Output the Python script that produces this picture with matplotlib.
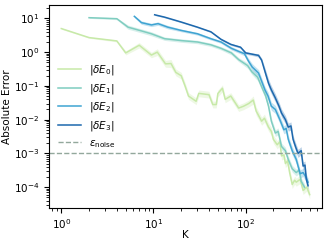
import numpy as np
import matplotlib
matplotlib.use("Agg")
import matplotlib.pyplot as plt

# --- data ---
K0 = [1, 2, 4, 5, 7, 9.5, 11, 13.5, 15.5, 17.5, 20, 22, 24, 29, 31, 40, 44, 48, 50, 56,
      60, 69, 84, 95, 108, 121, 130, 149, 160, 177, 190, 200, 220, 235, 245, 260, 270, 285,
      300, 320, 340, 354, 390, 420, 460, 495]
E0 = [5.0, 2.7, 2.15, 0.95, 1.6, 0.82, 1.0, 0.45, 0.46, 0.25, 0.2, 0.1, 0.05, 0.035, 0.06,
      0.055, 0.028, 0.028, 0.06, 0.085, 0.04, 0.05, 0.022, 0.025, 0.03, 0.038, 0.018, 0.009,
      0.011, 0.006, 0.0045, 0.0026, 0.0018, 0.0022, 8.4e-4, 9e-4, 5e-4, 6e-4, 2.7e-4, 1.2e-4,
      1.6e-4, 1.4e-4, 1.7e-4, 8e-5, 1.0e-4, 6e-5]
S0 = [0.02, 0.02, 0.03, 0.06, 0.08, 0.08, 0.1, 0.1, 0.12, 0.1, 0.1, 0.1, 0.1, 0.1, 0.1,
      0.1, 0.1, 0.1, 0.1, 0.1, 0.1, 0.1, 0.1, 0.1, 0.1, 0.12, 0.12, 0.12, 0.12, 0.12, 0.12,
      0.12, 0.12, 0.12, 0.12, 0.12, 0.12, 0.12, 0.12, 0.12, 0.12, 0.12, 0.12, 0.12, 0.12, 0.12]

K1 = [2, 4, 5.3, 7.1, 9.5, 13.2, 20, 30, 42, 54, 70, 84, 105, 117, 135, 149, 165, 177, 190,
      210, 225, 245, 270, 290, 320, 354, 380, 400, 435]
E1 = [10.5, 9.8, 5.5, 4.4, 3.5, 2.5, 2.2, 2.0, 1.65, 1.3, 0.95, 0.6, 0.4, 0.26, 0.18, 0.095,
      0.05, 0.025, 0.009, 0.004, 0.0045, 0.0016, 0.0012, 6.6e-4, 3.5e-4, 2.7e-4, 3.2e-4,
      1.5e-4, 1.0e-4]
S1 = [0.02, 0.03, 0.06, 0.06, 0.06, 0.05, 0.05, 0.05, 0.05, 0.05, 0.06, 0.06, 0.08, 0.08,
      0.1, 0.1, 0.1, 0.1, 0.1, 0.1, 0.1, 0.1, 0.1, 0.1, 0.1, 0.1, 0.1, 0.1, 0.1]

K2 = [6.2, 7.4, 9.5, 11.2, 14.3, 20, 30, 42, 54, 70, 84, 97, 107, 118, 138, 162, 175, 190,
      210, 235, 260, 275, 290, 320, 354, 390, 420, 450, 475]
E2 = [11.5, 7.5, 6.4, 7.0, 5.5, 4.4, 3.5, 2.5, 2.0, 1.3, 1.05, 0.9, 0.55, 0.36, 0.24, 0.076,
      0.05, 0.025, 0.02, 0.01, 0.005, 0.0055, 0.0026, 0.0012, 6.6e-4, 2.5e-4, 2.7e-4,
      2.0e-4, 1.4e-4]
S2 = [0.03, 0.05, 0.05, 0.05, 0.05, 0.04, 0.04, 0.04, 0.04, 0.05, 0.05, 0.06, 0.08, 0.1,
      0.1, 0.1, 0.12, 0.12, 0.12, 0.12, 0.12, 0.12, 0.12, 0.12, 0.12, 0.12, 0.12, 0.12, 0.12]

K3 = [10.3, 13.2, 20, 30, 42, 54, 69, 88, 100, 123, 138, 149, 160, 177, 190, 209, 230, 245,
      270, 290, 310, 327, 350, 370, 400, 420, 440, 455, 475]
E3 = [12.8, 10.9, 7.8, 5.5, 4.0, 2.4, 1.7, 1.4, 0.95, 0.85, 0.8, 0.58, 0.3, 0.12, 0.076,
      0.045, 0.025, 0.0157, 0.01, 0.006, 0.0065, 0.0026, 0.0015, 0.001, 0.0012, 4.2e-4,
      4.5e-4, 1.7e-4, 1.1e-4]
S3 = [0.02, 0.02, 0.02, 0.02, 0.02, 0.03, 0.03, 0.03, 0.04, 0.04, 0.05, 0.06, 0.1, 0.12,
      0.12, 0.12, 0.12, 0.12, 0.12, 0.12, 0.12, 0.12, 0.12, 0.12, 0.12, 0.12, 0.12, 0.12, 0.12]

labels = [r"$|\delta E_0|$", r"$|\delta E_1|$", r"$|\delta E_2|$", r"$|\delta E_3|$"]
eps_noise = 1e-3

# --- plot ---
plt.rcParams["font.size"] = 7.5
fig = plt.figure(figsize=(3.28, 2.44), dpi=100)
ax = fig.add_axes([0.149, 0.148, 0.833, 0.832])

colors = ["#c7e9a8", "#7fcdc0", "#3fa4d2", "#1d68ad"]
series = [(K0, E0, S0), (K1, E1, S1), (K2, E2, S2), (K3, E3, S3)]

for (k, e, s), c, lab in zip(series, colors, labels):
    k = np.array(k)
    e = np.array(e)
    s = np.array(s)
    ax.fill_between(k, e * 10 ** (-s), e * 10 ** s, color=c, alpha=0.3, lw=0)
    ax.plot(k, e, color=c, lw=1.1, label=lab)

ax.axhline(eps_noise, color="#93a89c", ls="--", lw=1.0, label=r"$\epsilon_{\mathrm{noise}}$")

ax.set_xscale("log")
ax.set_yscale("log")
ax.set_xlabel("K", labelpad=-1)
ax.set_ylabel("Absolute Error", labelpad=1)
ax.legend(loc="center left", frameon=False, handlelength=2.2, labelspacing=0.45)

plt.savefig("out.png", dpi=100)
plt.close()
